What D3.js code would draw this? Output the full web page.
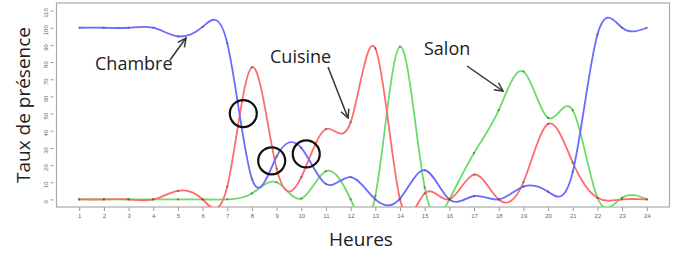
<!DOCTYPE html>
<html>
<head>
<meta charset="utf-8">
<script src="https://cdn.jsdelivr.net/npm/d3@7.9.0/dist/d3.min.js"></script>
<style>
  body { margin: 0; background: #fff; }
  svg { display: block; font-family: "Open Sans", sans-serif; }
</style>
</head>
<body>
<svg width="680" height="257"></svg>
<script>
const hours = d3.range(1, 25);
const chambre = [100, 100, 100, 100, 95, 100.5, 91, 12, 25, 30, 9, 13, 0, 0.5, 17, 0, 2, 0, 7.5, 4.5, 16, 96, 100, 100];
const cuisine = [0, 0, 0, 0, 5, 0, 7.5, 77, 18, 13, 41, 45, 88, 0, 3.5, 0, 14.5, 0, 10, 44, 21.5, 1, 0, 0];
const salon = [0, 0, 0, 0, 0, 0, 0, 3.5, 10, 0.5, 16.5, 0, 2, 89, 7, 0, 27, 52, 74.5, 47.5, 52, 1, 1, 0];
const yTicks = d3.range(0, 111, 10);

const series = [
  { name: "Chambre", values: chambre, color: "#6b6bff" },
  { name: "Cuisine", values: cuisine, color: "#ff6b6b" },
  { name: "Salon", values: salon, color: "#6bdc6b" }
];

const svg = d3.select("svg");
const box = { left: 56.5, right: 669.5, top: 3, bottom: 207 };

const x = d3.scaleLinear().domain([0.08, 24.92]).range([box.left, box.right]);
const y = d3.scaleLinear().domain([-4.4, 114.4]).range([box.bottom, box.top]);

svg.append("defs").append("clipPath").attr("id", "plot")
  .append("rect")
  .attr("x", box.left).attr("y", box.top)
  .attr("width", box.right - box.left).attr("height", box.bottom - box.top);

svg.append("defs").append("marker")
  .attr("id", "arrow").attr("viewBox", "0 0 10 10")
  .attr("refX", 9).attr("refY", 5)
  .attr("markerWidth", 7).attr("markerHeight", 7)
  .attr("orient", "auto")
  .append("path").attr("d", "M1,1 L9,5 L1,9")
  .attr("fill", "none").attr("stroke", "#333").attr("stroke-width", 1.4);

// axes
const xAxis = svg.append("g")
  .attr("transform", `translate(0,${box.bottom})`)
  .call(d3.axisBottom(x).tickValues(hours).tickSize(4).tickPadding(3));
const yAxis = svg.append("g")
  .attr("transform", `translate(${box.left - 3},0)`)
  .call(d3.axisLeft(y).tickValues(yTicks).tickSize(3).tickPadding(4));

[xAxis, yAxis].forEach(g => {
  g.select(".domain").remove();
  g.selectAll(".tick line").attr("stroke", "#999");
  g.selectAll(".tick text").attr("fill", "#666").attr("font-size", 6);
});
yAxis.selectAll(".tick text")
  .attr("text-anchor", "middle")
  .attr("transform", function () {
    return `rotate(-90,${this.getAttribute("x")},0)`;
  })
  .attr("dy", "0.3em").attr("x", -9);

svg.append("rect")
  .attr("x", box.left).attr("y", box.top)
  .attr("width", box.right - box.left).attr("height", box.bottom - box.top)
  .attr("fill", "none").attr("stroke", "#aaa").attr("stroke-width", 1.2);

// lines
const line = d3.line()
  .x((d, i) => x(hours[i]))
  .y(d => y(d))
  .curve(d3.curveNatural);

const plot = svg.append("g").attr("clip-path", "url(#plot)");

series.slice().reverse().forEach(s => {
  plot.append("path")
    .attr("d", line(s.values))
    .attr("fill", "none")
    .attr("stroke", s.color)
    .attr("stroke-width", 1.8);
});

series.forEach(s => {
  plot.selectAll(null)
    .data(s.values)
    .join("circle")
    .attr("cx", (d, i) => x(hours[i]))
    .attr("cy", d => y(d))
    .attr("r", 1.1)
    .attr("fill", "#555")
    .attr("opacity", 0.7);
});

// highlighted crossings
const rings = [[7.65, 50], [8.8, 22.5], [10.2, 26.5]];
svg.selectAll(".ring")
  .data(rings)
  .join("circle")
  .attr("cx", d => x(d[0]))
  .attr("cy", d => y(d[1]))
  .attr("r", 13.5)
  .attr("fill", "none")
  .attr("stroke", "#111")
  .attr("stroke-width", 2.2);

// annotations
const notes = [
  { text: "Chambre", tx: 95, ty: 70, from: [170, 60], to: [186, 38] },
  { text: "Cuisine", tx: 270, ty: 63, from: [328, 67], to: [348, 118] },
  { text: "Salon", tx: 424, ty: 55, from: [467, 66], to: [503, 91] }
];
notes.forEach(n => {
  svg.append("text")
    .attr("x", n.tx).attr("y", n.ty)
    .attr("font-size", 18).attr("fill", "#222")
    .text(n.text);
  svg.append("line")
    .attr("x1", n.from[0]).attr("y1", n.from[1])
    .attr("x2", n.to[0]).attr("y2", n.to[1])
    .attr("stroke", "#333").attr("stroke-width", 1.5)
    .attr("marker-end", "url(#arrow)");
});

svg.append("text")
  .attr("x", 361).attr("y", 246)
  .attr("text-anchor", "middle")
  .attr("font-size", 19).attr("fill", "#222")
  .text("Heures");

svg.append("text")
  .attr("transform", "translate(30,105) rotate(-90)")
  .attr("text-anchor", "middle")
  .attr("font-size", 19).attr("fill", "#222")
  .text("Taux de présence");
</script>
</body>
</html>
